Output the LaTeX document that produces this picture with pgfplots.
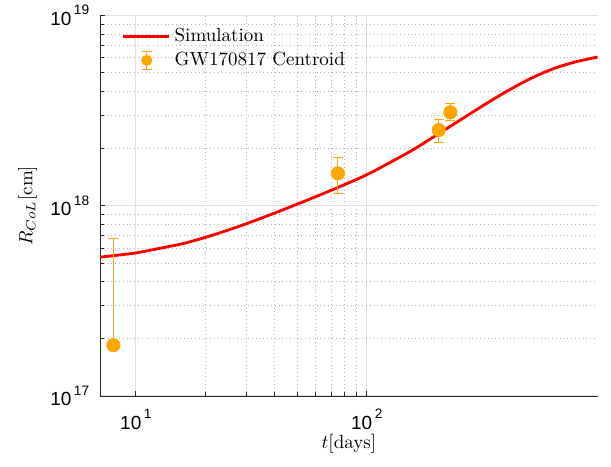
\documentclass[border=0pt]{standalone}
\usepackage{fontspec}
\setmainfont{Latin Modern Roman}
\newfontfamily\hv{Liberation Sans}
\usepackage{pgfplots}
\pgfplotsset{compat=1.18}
\definecolor{mlorange}{RGB}{255,165,0}
\definecolor{axgray}{RGB}{38,38,38}
% MATLAB-like tick label 10^n
\newcommand\mlab[1]{{\hv 10\kern1.3pt\raisebox{5.6pt}{\fontsize{7.2}{7.2}\selectfont #1}}}

\begin{document}
\begin{tikzpicture}
\path[use as bounding box] (-52.63pt,-36.84pt) rectangle (268.9pt,208.4pt);
\begin{loglogaxis}[
  scale only axis, width=261.9pt, height=200.2pt,
  xmin=7, xmax=1000, ymin=1e17, ymax=1e19,
  axis x line=bottom, axis y line=left,
  axis line style={-, draw=axgray, line width=0.45pt},
  tick align=inside, major tick length=2.6pt, minor tick length=2.1pt,
  tick style={draw=axgray, line width=0.45pt},
  xtick={10,100}, xticklabels={\mlab{1},\mlab{2}},
  ytick={1e17,1e18,1e19}, yticklabels={\mlab{17},\mlab{18},\mlab{19}},
  xticklabel style={yshift=-3.3pt},
  yticklabel style={xshift=-2.2pt},
  grid=both,
  major grid style={draw=black!12, line width=0.6pt},
  minor grid style={draw=black!30, line width=0.4pt, dash pattern=on 0.5pt off 1.5pt},
  xlabel={$t$[days]}, ylabel={$R_{CoL}$[cm]},
  xlabel style={yshift=4.3pt},
  legend style={draw=none, fill=none, at={(0.032,0.988)}, anchor=north west,
    row sep=0.2pt},
  legend cell align=left,
]
\addplot[red, line width=1.5pt, smooth,
  legend image code/.code={\draw[red, line width=1.5pt] (0pt,0pt) -- (24.2pt,0pt);}]
  coordinates {
    (7.0,5.37e17) (7.94,5.46e17) (10,5.65e17) (12.59,5.96e17) (15.85,6.31e17)
    (19.95,6.81e17) (25.12,7.45e17) (31.62,8.22e17) (39.81,9.14e17)
    (50.12,1.021e18) (63.10,1.143e18) (79.43,1.285e18) (100,1.455e18)
    (125.9,1.687e18) (158.5,1.968e18) (199.5,2.344e18) (251.2,2.799e18)
    (316.2,3.342e18) (398.1,3.954e18) (501.2,4.603e18) (631.0,5.212e18)
    (794.3,5.689e18) (1000,6.053e18)
  };
\addlegendentry{Simulation}
\addplot[only marks, mark=*, mark size=3.5pt, color=mlorange,
  mark options={fill=mlorange, draw=mlorange},
  error bars/.cd, y dir=both, y explicit,
  error bar style={line width=0.55pt, mlorange},
  error mark options={rotate=90, mark size=2.6pt, line width=0.55pt, mlorange},
  /pgfplots/legend image code/.code={
    \draw[mlorange, line width=0.55pt] (12.3pt,-4.6pt) -- (12.3pt,4.6pt);
    \draw[mlorange, line width=0.55pt] (9.7pt,-4.6pt) -- (14.9pt,-4.6pt);
    \draw[mlorange, line width=0.55pt] (9.7pt,4.6pt) -- (14.9pt,4.6pt);
    \fill[mlorange] (12.3pt,0pt) circle (2.7pt);
    \path[draw=none] (0pt,0pt) -- (24.2pt,0pt);},
  ]
  coordinates {
    (8,1.85e17) += (0,4.91e17) -= (0,0.05e17)
    (75,1.48e18) +- (0,0.32e18)
    (205,2.50e18) +- (0,0.34e18)
    (230,3.10e18) += (0,0.33e18) -= (0,0.30e18)
  };
\addlegendentry{GW170817 Centroid}
\end{loglogaxis}
\end{tikzpicture}
\end{document}
